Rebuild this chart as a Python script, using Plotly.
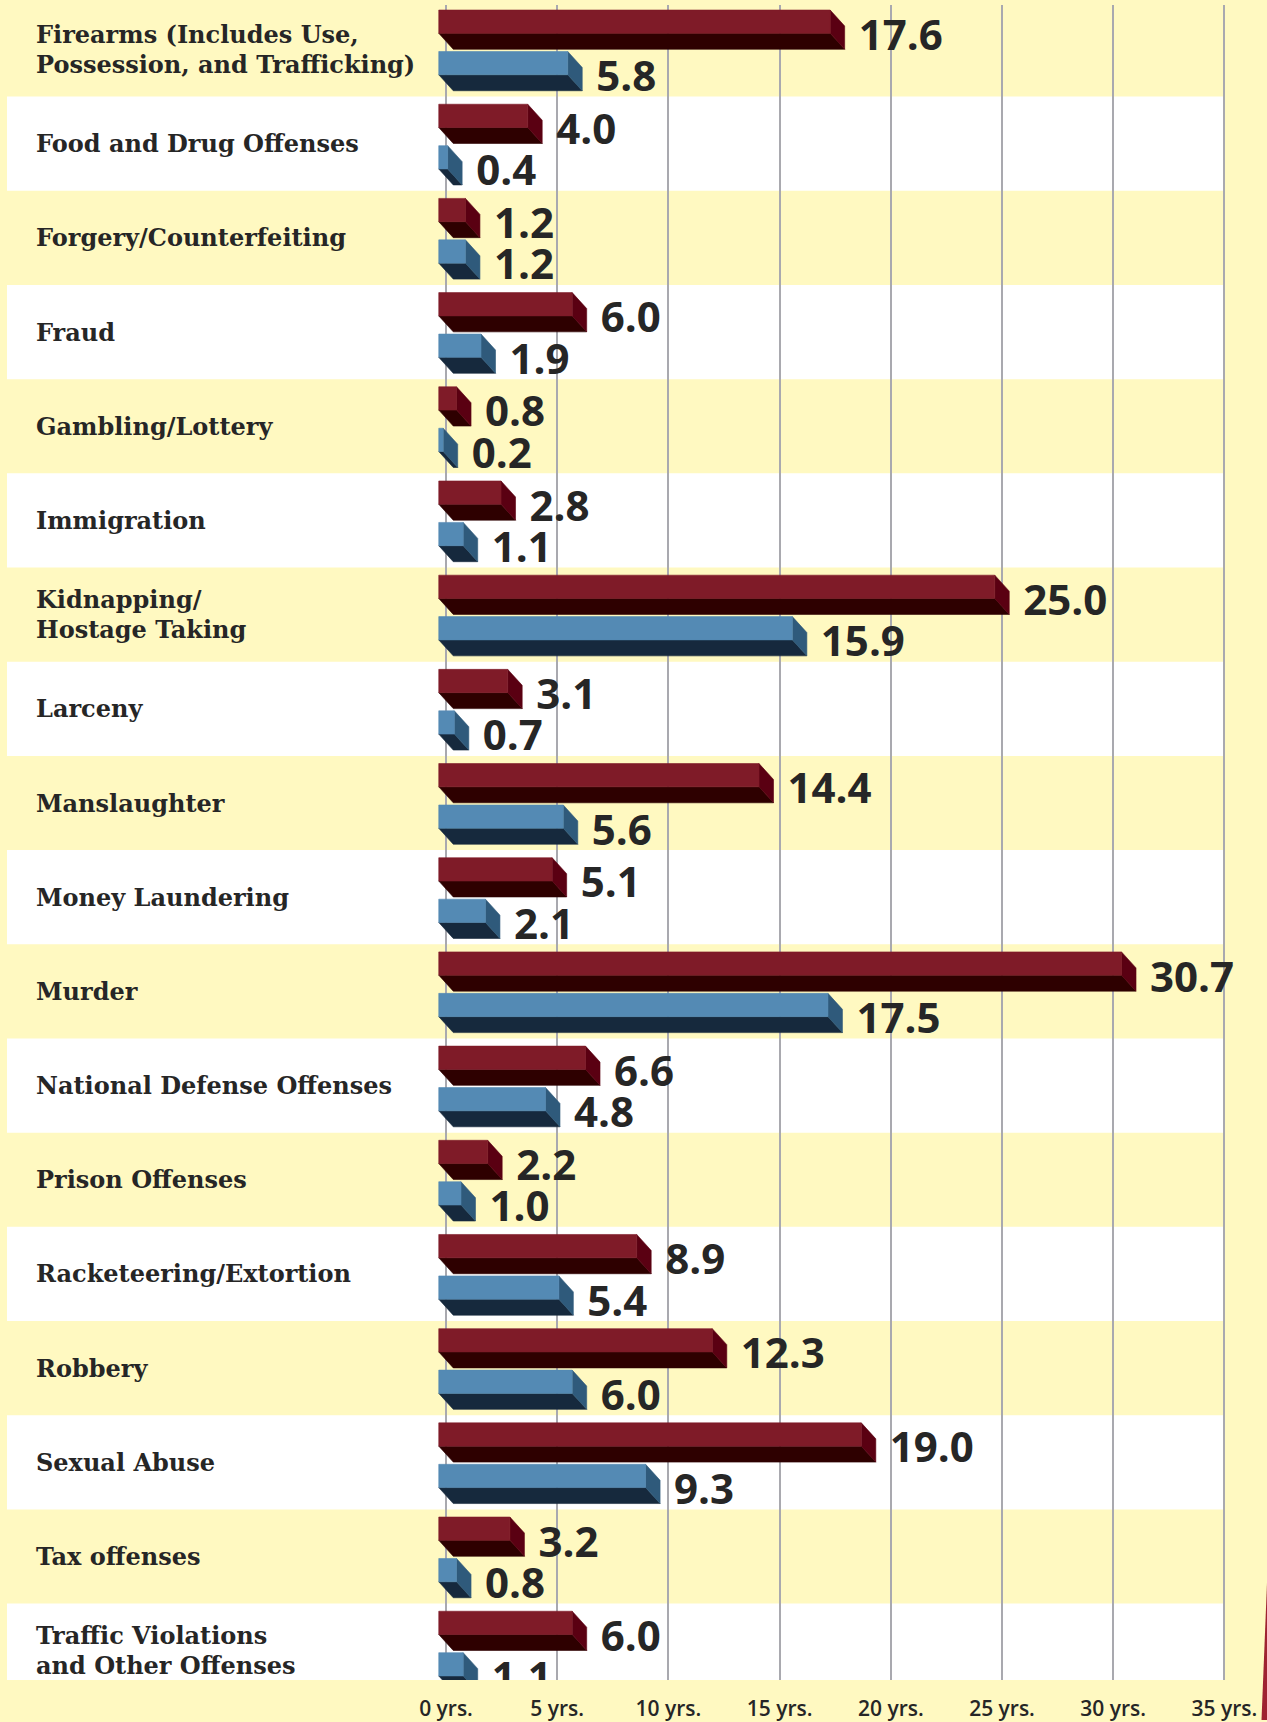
import plotly.graph_objects as go

# ---------------- data ----------------
categories = [
    "Firearms (Includes Use,<br>Possession, and Trafficking)",
    "Food and Drug Offenses",
    "Forgery/Counterfeiting",
    "Fraud",
    "Gambling/Lottery",
    "Immigration",
    "Kidnapping/<br>Hostage Taking",
    "Larceny",
    "Manslaughter",
    "Money Laundering",
    "Murder",
    "National Defense Offenses",
    "Prison Offenses",
    "Racketeering/Extortion",
    "Robbery",
    "Sexual Abuse",
    "Tax offenses",
    "Traffic Violations<br>and Other Offenses",
]
series_red_years = [17.6, 4.0, 1.2, 6.0, 0.8, 2.8, 25.0, 3.1, 14.4, 5.1,
                    30.7, 6.6, 2.2, 8.9, 12.3, 19.0, 3.2, 6.0]
series_blue_years = [5.8, 0.4, 1.2, 1.9, 0.2, 1.1, 15.9, 0.7, 5.6, 2.1,
                     17.5, 4.8, 1.0, 5.4, 6.0, 9.3, 0.8, 1.1]
tick_values = [0, 5, 10, 15, 20, 25, 30, 35]
tick_labels = ["0 yrs.", "5 yrs.", "10 yrs.", "15 yrs.", "20 yrs.",
               "25 yrs.", "30 yrs.", "35 yrs."]

# ---------------- layout constants ----------------
W, H = 1267, 1722
PLOT_TOP, PLOT_BOTTOM = 5, 1682
ROW_PITCH = 94.3
ROW0_START = 2.4
ZERO_PX = 446
PX_PER_YR = 22.24
DEPTH_X_PX = 14.5
DEPTH_Y_PX = 16.0
FRONT_PX = 23.3
RED_TOP_PX = -39.5
BLUE_TOP_PX = 2.0
LABEL_GAP_PX = 14
LABEL_DROP_PX = 9.5
LINE_PX = 29.5

BG = "#FFF9C1"
GRID = "#A9A9AF"
TEXT = "#262626"

D = DEPTH_X_PX / PX_PER_YR
HALF = D / 2


def ry(px):
    return px / ROW_PITCH


y_top = (PLOT_TOP - ROW0_START) / ROW_PITCH - 0.5
y_bot = (PLOT_BOTTOM - ROW0_START) / ROW_PITCH - 0.5
x_min = -ZERO_PX / PX_PER_YR
x_max = (W - ZERO_PX) / PX_PER_YR


def faces(values, top_px):
    fx, fy, bx, by, sx, sy = [], [], [], [], [], []
    for i, v in enumerate(values):
        t = i + ry(top_px)
        m = t + ry(FRONT_PX)
        b = m + ry(DEPTH_Y_PX)
        s = t + ry(DEPTH_Y_PX)
        xl, xr, xe = -HALF, v - HALF, v + HALF
        fx += [xl, xr, xr, xl, xl, None]
        fy += [t, t, m, m, t, None]
        bx += [xl, xr, xe, xl + D, xl, None]
        by += [m, m, b, b, m, None]
        sx += [xr, xe, xe, xr, xr, None]
        sy += [t, s, b, m, t, None]
    return (fx, fy), (bx, by), (sx, sy)


fig = go.Figure()

palettes = [
    (series_red_years, RED_TOP_PX, "#7F1B28", "#2E0000", "#5A0012"),
    (series_blue_years, BLUE_TOP_PX, "#548AB4", "#16293D", "#2F5A7B"),
]

for vals, top_px, c_front, c_bottom, c_side in palettes:
    front, bottom, side = faces(vals, top_px)
    for (xs, ys), col in ((bottom, c_bottom), (side, c_side), (front, c_front)):
        fig.add_trace(go.Scatter(
            x=xs, y=ys, mode="lines", fill="toself", fillcolor=col,
            line=dict(color=col, width=0.6), hoverinfo="skip",
            showlegend=False))
    # value labels
    label_off = top_px + (FRONT_PX + DEPTH_Y_PX) / 2 + LABEL_DROP_PX
    fig.add_trace(go.Scatter(
        x=[v + HALF + LABEL_GAP_PX / PX_PER_YR for v in vals],
        y=[i + ry(label_off) for i in range(len(vals))],
        mode="text", text=[f"{v:.1f}" for v in vals],
        textposition="middle right",
        textfont=dict(family="Open Sans", size=42, color=TEXT, weight="bold"),
        cliponaxis=True, hoverinfo="skip", showlegend=False))

shapes = []
for i in range(len(categories)):
    if i % 2 == 1:
        shapes.append(dict(
            type="rect", xref="x", yref="y",
            x0=(7 - ZERO_PX) / PX_PER_YR, x1=tick_values[-1],
            y0=i - 0.5, y1=i + 0.5,
            fillcolor="white", line=dict(width=0), layer="below"))


def paper_y(px):
    return (PLOT_BOTTOM - px) / (PLOT_BOTTOM - PLOT_TOP)


# decorative page-edge ribbon at lower right
shapes.append(dict(
    type="path", xref="paper", yref="paper",
    path=(f"M {1267/W} {paper_y(1585)} L {1261.5/W} {paper_y(1722)} "
          f"L {1267/W} {paper_y(1722)} Z"),
    fillcolor="#9E2331", line=dict(width=0), layer="above"))

annotations = []
for i, lab in enumerate(categories):
    lines = lab.split("<br>")
    n = len(lines)
    for k, line in enumerate(lines):
        annotations.append(dict(
            xref="paper", yref="y", x=34 / W,
            y=i + ry((k - (n - 1) / 2) * LINE_PX),
            text=line, showarrow=False, xanchor="left", yanchor="middle",
            font=dict(family="DejaVu Serif", size=24, color=TEXT,
                      weight="bold")))

fig.update_layout(
    width=W, height=H,
    margin=dict(l=0, r=0, t=PLOT_TOP, b=H - PLOT_BOTTOM, pad=0),
    paper_bgcolor=BG, plot_bgcolor="rgba(0,0,0,0)",
    shapes=shapes, annotations=annotations,
    xaxis=dict(range=[x_min, x_max], tickmode="array",
               tickvals=tick_values, ticktext=tick_labels,
               showgrid=True, gridcolor=GRID, gridwidth=2,
               zeroline=False, showline=False,
               ticks="outside", ticklen=10, tickcolor="rgba(0,0,0,0)",
               tickfont=dict(family="Open Sans", size=21, color=TEXT,
                             weight=600),
               fixedrange=True),
    yaxis=dict(range=[y_bot, y_top], showgrid=False, zeroline=False,
               showticklabels=False, showline=False, fixedrange=True),
)

fig.write_html("out.html")
